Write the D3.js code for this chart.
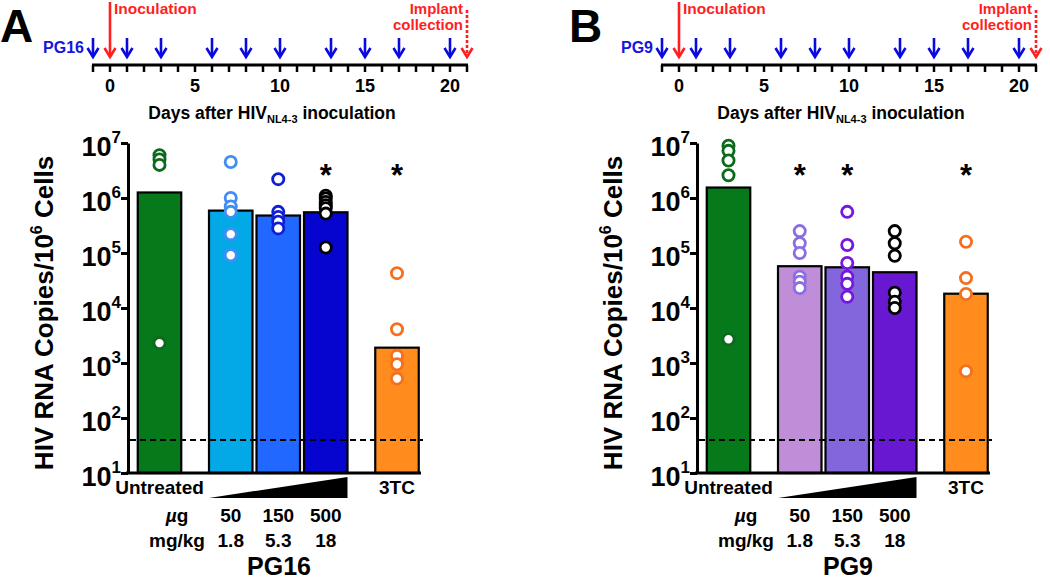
<!DOCTYPE html>
<html><head><meta charset="utf-8">
<script src="https://cdn.jsdelivr.net/npm/d3@7"></script>
<style>
body{margin:0;background:#fff}
svg{display:block}
text{font-family:"Liberation Sans",Arial,Helvetica,sans-serif;font-weight:bold}
</style>
</head><body><svg id="c" width="1050" height="581"></svg>
<script>
// ---------- data ----------
const timelineTicks = [0, 5, 10, 15, 20];
const doseDays = [-1, 1, 3, 6, 8, 10, 13, 15, 17, 20];
const inoculationDay = 0;
const collectionDay = 21;
const categories = ["Untreated", "50", "150", "500", "3TC"];
const doseUg = ["50", "150", "500"];
const doseMgKg = ["1.8", "5.3", "18"];
const yTicks = [1e1, 1e2, 1e3, 1e4, 1e5, 1e6, 1e7];
const lod = 40;

// Panel A (PG16)
const barsA = [1.26e6, 5.9e5, 4.8e5, 5.5e5, 1.9e3];
const pointsA = [
  [6.0e6, 5.0e6, 4.0e6, 2.3e3],
  [4.5e6, 1.0e6, 7.0e5, 5.6e5, 2.2e5, 9.1e4],
  [2.2e6, 5.6e5, 4.5e5, 3.7e5, 2.8e5],
  [1.1e6, 9.8e5, 8.5e5, 7.4e5, 6.5e5, 5.2e5, 1.26e5],
  [4.3e4, 4.1e3, 1.35e3, 9.5e2, 5.2e2]
];
const sigA = [false, false, false, true, true];

// Panel B (PG9)
const barsB = [1.55e6, 5.75e4, 5.5e4, 4.47e4, 1.82e4];
const pointsB = [
  [8.9e6, 7.2e6, 4.8e6, 2.6e6, 2.7e3],
  [2.5e5, 1.5e5, 1.0e5, 3.7e4, 3.0e4, 2.3e4],
  [5.6e5, 1.4e5, 6.6e4, 3.7e4, 2.75e4, 1.6e4],
  [2.5e5, 1.5e5, 8.9e4, 1.9e4, 1.3e4, 1.0e4],
  [1.6e5, 3.5e4, 1.8e4, 7.1e2]
];
const sigB = [false, true, true, false, true];

// ---------- styles ----------
const fillsA = ["#06791a", "#03a9e6", "#2068ff", "#0505cf", "#ff8c1c"];
const ptColA = ["#0d6a1d", "#3f8ef5", "#0f1fd6", "#000000", "#f4701f"];
const fillsB = ["#06791a", "#c08ed8", "#8365dc", "#6818d0", "#ff8c1c"];
const ptColB = ["#0d6a1d", "#8a6ee2", "#7518de", "#000000", "#f4701f"];
const slots = [0, 1.5, 2.5, 3.5, 5];

const svg = d3.select("#c");

function arrow(g, x, y1, y2, color, dashed) {
  const l = g.append("line").attr("x1", x).attr("x2", x).attr("y1", y1).attr("y2", y2 - 1)
    .attr("stroke", color).attr("stroke-width", 2.6);
  if (dashed) l.attr("stroke-dasharray", "3,2");
  g.append("path").attr("d", `M${x - 5.5},${y2 - 9}L${x},${y2}L${x + 5.5},${y2 - 9}`)
    .attr("fill", "none").attr("stroke", color).attr("stroke-width", 2.6);
}

function drawPanel(ox, cfg) {
  const g = svg.append("g").attr("transform", `translate(${ox},0)`);
  g.append("text").attr("x", 0).attr("y", 42).attr("font-size", 46).text(cfg.letter);

  // timeline
  const t = d3.scaleLinear().domain([-1, 21]).range([93, 467]);
  const lineY = 65;
  g.append("line").attr("x1", t(-1) - 1).attr("x2", t(21) + 1).attr("y1", lineY).attr("y2", lineY)
    .attr("stroke", "#000").attr("stroke-width", 3);
  g.selectAll(".tt").data(d3.range(-1, 22)).join("line")
    .attr("x1", d => t(d)).attr("x2", d => t(d)).attr("y1", lineY).attr("y2", lineY + 7)
    .attr("stroke", "#000").attr("stroke-width", 2.5);
  g.selectAll(".tl").data(timelineTicks).join("text")
    .attr("x", d => t(d)).attr("y", 92).attr("text-anchor", "middle").attr("font-size", 18).text(d => d);
  doseDays.forEach(d => arrow(g, t(d), 38, 57, "#0a0ae0", false));
  arrow(g, t(inoculationDay), 2, 57, "#ff1f1f", false);
  arrow(g, t(collectionDay), 10, 57, "#ff1f1f", true);
  g.append("text").attr("x", 84).attr("y", 53).attr("text-anchor", "end").attr("font-size", 16)
    .attr("fill", "#1515e0").text(cfg.drug);
  g.append("text").attr("x", 114).attr("y", 14).attr("font-size", 15.5).attr("fill", "#ff1f1f").text("Inoculation");
  g.append("text").attr("x", t(collectionDay) - 4).attr("y", 14).attr("text-anchor", "end")
    .attr("font-size", 15).attr("fill", "#ff1f1f").text("Implant");
  g.append("text").attr("x", t(collectionDay) - 4).attr("y", 30).attr("text-anchor", "end")
    .attr("font-size", 15).attr("fill", "#ff1f1f").text("collection");
  const dt = g.append("text").attr("x", 272).attr("y", 119).attr("text-anchor", "middle").attr("font-size", 17.5);
  dt.append("tspan").text("Days after HIV");
  dt.append("tspan").attr("font-size", 11).attr("dy", 4).text("NL4-3");
  dt.append("tspan").attr("dy", -4).text(" inoculation");

  // chart
  const y = d3.scaleLog().domain([10, 1e7]).range([473, 143]);
  const x = d3.scaleLinear().domain([0, 5]).range([159.5, 397]);
  const bw = 43.5;

  const ax = g.append("g").attr("transform", "translate(128,0)")
    .call(d3.axisLeft(y).tickValues(yTicks).tickFormat("").tickSize(7).tickSizeOuter(0));
  ax.select(".domain").attr("stroke-width", 3);
  ax.selectAll(".tick line").attr("stroke-width", 3);

  yTicks.forEach(v => {
    const tx = g.append("text").attr("x", 121).attr("y", y(v) + 13).attr("text-anchor", "end").attr("font-size", 27);
    tx.append("tspan").text("10");
    tx.append("tspan").attr("font-size", 17).attr("dy", -13).text(Math.round(Math.log10(v)));
  });

  const yt = g.append("text").attr("transform", "translate(53,313) rotate(-90)")
    .attr("text-anchor", "middle").attr("font-size", 26);
  yt.append("tspan").text("HIV RNA Copies/10");
  yt.append("tspan").attr("font-size", 16).attr("dy", -11).text("6");
  yt.append("tspan").attr("dy", 11).text(" Cells");

  g.selectAll(".bar").data(cfg.bars).join("rect")
    .attr("x", (d, i) => x(slots[i]) - bw / 2).attr("width", bw)
    .attr("y", d => y(d)).attr("height", d => 473 - y(d))
    .attr("fill", (d, i) => cfg.fills[i]).attr("stroke", "#000").attr("stroke-width", 2.2);

  g.append("line").attr("x1", 126).attr("x2", 421).attr("y1", 473).attr("y2", 473)
    .attr("stroke", "#000").attr("stroke-width", 3);

  g.append("line").attr("x1", 130).attr("x2", 423).attr("y1", y(lod)).attr("y2", y(lod))
    .attr("stroke", "#000").attr("stroke-width", 2).attr("stroke-dasharray", "6,4");

  cfg.points.forEach((arr, i) => {
    g.selectAll(".p" + i).data(arr).join("circle")
      .attr("cx", x(slots[i])).attr("cy", d => y(d)).attr("r", 5.6)
      .attr("fill", "#fff").attr("stroke", cfg.ptCols[i]).attr("stroke-width", 2.8);
  });

  cfg.sig.forEach((s, i) => {
    if (s) g.append("text").attr("x", x(slots[i])).attr("y", 186).attr("text-anchor", "middle")
      .attr("font-size", 31).text("*");
  });

  g.append("text").attr("x", x(slots[0])).attr("y", 494).attr("text-anchor", "middle").attr("font-size", 19).text(categories[0]);
  g.append("text").attr("x", x(slots[4])).attr("y", 494).attr("text-anchor", "middle").attr("font-size", 19).text(categories[4]);
  const xl = x(slots[1]) - bw / 2, xr = x(slots[3]) + bw / 2;
  g.append("path").attr("d", `M${xl},498L${xr},498L${xr},477Z`).attr("fill", "#000");

  const ug = g.append("text").attr("x", 177).attr("y", 522).attr("text-anchor", "middle").attr("font-size", 19);
  ug.append("tspan").attr("font-style", "italic").text("µ");
  ug.append("tspan").text("g");
  g.append("text").attr("x", 177).attr("y", 547).attr("text-anchor", "middle").attr("font-size", 19).text("mg/kg");
  doseUg.forEach((d, i) => g.append("text").attr("x", x(slots[i + 1])).attr("y", 522)
    .attr("text-anchor", "middle").attr("font-size", 19).text(d));
  doseMgKg.forEach((d, i) => g.append("text").attr("x", x(slots[i + 1])).attr("y", 547)
    .attr("text-anchor", "middle").attr("font-size", 19).text(d));
  g.append("text").attr("x", 279).attr("y", 575).attr("text-anchor", "middle").attr("font-size", 25).text(cfg.drug);
}

drawPanel(0, {letter: "A", drug: "PG16", bars: barsA, points: pointsA, sig: sigA, fills: fillsA, ptCols: ptColA});
drawPanel(569, {letter: "B", drug: "PG9", bars: barsB, points: pointsB, sig: sigB, fills: fillsB, ptCols: ptColB});
</script>
</body></html>
